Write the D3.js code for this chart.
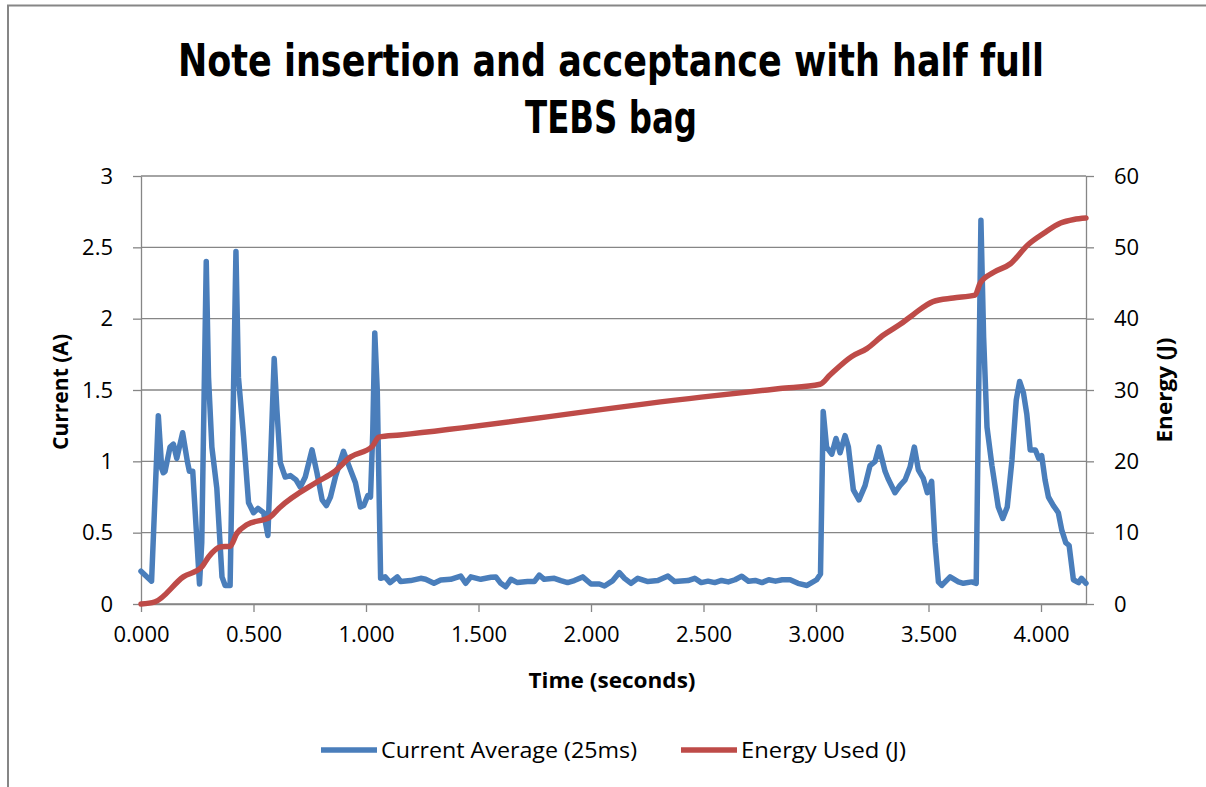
<!DOCTYPE html>
<html>
<head>
<meta charset="utf-8">
<script src="https://cdn.jsdelivr.net/npm/d3@7"></script>
<style>
  body { margin: 0; background: #fff; }
  svg { display: block; }
</style>
</head>
<body>
<div id="chart"></div>
<script>
// current average (25ms) - time in seconds, amps
const currentTime = [
  0.000, 0.047, 0.077, 0.092, 0.099, 0.107, 0.129, 0.144, 0.159, 0.185,
  0.206, 0.215, 0.230, 0.260, 0.270, 0.290, 0.300, 0.315, 0.337, 0.360,
  0.374, 0.396, 0.422, 0.433, 0.456, 0.478, 0.500, 0.520, 0.545, 0.564,
  0.592, 0.604, 0.619, 0.641, 0.664, 0.689, 0.708, 0.730, 0.760, 0.782,
  0.805, 0.824, 0.842, 0.864, 0.900, 0.931, 0.953, 0.975, 0.990, 1.008,
  1.020, 1.030, 1.039, 1.050, 1.065, 1.085, 1.107, 1.139, 1.154, 1.198,
  1.243, 1.265, 1.302, 1.332, 1.376, 1.421, 1.443, 1.466, 1.510, 1.555,
  1.577, 1.599, 1.621, 1.644, 1.673, 1.718, 1.748, 1.770, 1.792, 1.837,
  1.866, 1.896, 1.926, 1.963, 2.000, 2.037, 2.060, 2.097, 2.126, 2.149,
  2.178, 2.208, 2.253, 2.297, 2.342, 2.372, 2.431, 2.461, 2.490, 2.520,
  2.550, 2.580, 2.610, 2.640, 2.670, 2.700, 2.730, 2.760, 2.790, 2.820,
  2.850, 2.885, 2.920, 2.960, 3.003, 3.020, 3.032, 3.047, 3.070, 3.089,
  3.107, 3.129, 3.144, 3.166, 3.191, 3.218, 3.240, 3.263, 3.280, 3.307,
  3.320, 3.351, 3.373, 3.396, 3.418, 3.437, 3.455, 3.477, 3.495, 3.514,
  3.529, 3.544, 3.559, 3.596, 3.633, 3.655, 3.692, 3.712, 3.733, 3.745,
  3.760, 3.782, 3.810, 3.830, 3.850, 3.871, 3.890, 3.905, 3.922, 3.937,
  3.952, 3.975, 3.990, 4.003, 4.018, 4.033, 4.055, 4.077, 4.092, 4.110,
  4.125, 4.144, 4.167, 4.180, 4.200
];
const currentAvg = [
  0.23, 0.16, 1.32, 0.95, 0.92, 0.93, 1.10, 1.12, 1.02, 1.20,
  1.00, 0.93, 0.93, 0.14, 0.43, 2.40, 1.59, 1.10, 0.81, 0.19,
  0.13, 0.13, 2.47, 1.59, 1.17, 0.71, 0.64, 0.67, 0.64, 0.48,
  1.72, 1.36, 0.99, 0.89, 0.90, 0.87, 0.82, 0.89, 1.08, 0.92,
  0.73, 0.69, 0.75, 0.89, 1.07, 0.94, 0.85, 0.68, 0.69, 0.76,
  0.75, 1.20, 1.90, 1.50, 0.18, 0.19, 0.15, 0.19, 0.157, 0.164,
  0.18, 0.173, 0.145, 0.168, 0.173, 0.196, 0.145, 0.19, 0.173, 0.187,
  0.19, 0.145, 0.121, 0.173, 0.15, 0.157, 0.157, 0.203, 0.173, 0.18,
  0.164, 0.15, 0.164, 0.19, 0.14, 0.14, 0.126, 0.164, 0.22, 0.18,
  0.145, 0.18, 0.157, 0.164, 0.196, 0.157, 0.164, 0.18, 0.15, 0.16,
  0.15, 0.165, 0.155, 0.17, 0.195, 0.16, 0.165, 0.15, 0.17, 0.16,
  0.17, 0.17, 0.145, 0.13, 0.17, 0.21, 1.35, 1.10, 1.05, 1.16,
  1.06, 1.18, 1.10, 0.80, 0.73, 0.83, 0.97, 1.00, 1.10, 0.93,
  0.88, 0.78, 0.83, 0.87, 0.96, 1.10, 0.94, 0.88, 0.78, 0.86,
  0.43, 0.155, 0.13, 0.19, 0.155, 0.145, 0.155, 0.145, 2.69, 1.87,
  1.24, 0.97, 0.68, 0.60, 0.68, 1.01, 1.43, 1.56, 1.48, 1.33,
  1.08, 1.08, 1.02, 1.04, 0.87, 0.75, 0.69, 0.64, 0.52, 0.43,
  0.41, 0.17, 0.15, 0.18, 0.145
];

// energy used (J)
const energyTime = [
  0.000, 0.062, 0.188, 0.270, 0.300, 0.352, 0.396, 0.426, 0.470, 0.574,
  0.612, 0.782, 0.857, 0.931, 1.028, 1.057, 1.151, 2.490, 2.840, 3.018,
  3.062, 3.159, 3.226, 3.300, 3.374, 3.433, 3.520, 3.610, 3.707, 3.730,
  3.790, 3.864, 3.940, 4.014, 4.087, 4.146, 4.200
];
const energyUsed = [
  0, 0.3, 3.8, 5.2, 6.6, 8.0, 8.1, 9.9, 11.1, 12.2,
  13.4, 17.1, 18.5, 20.6, 22.1, 23.4, 23.7, 29.0, 30.2, 30.8,
  32.1, 34.7, 35.8, 37.7, 39.2, 40.6, 42.4, 42.9, 43.3, 45.0,
  46.5, 47.7, 50.3, 52.0, 53.4, 53.9, 54.1
];

const xTicks = [0, 0.5, 1, 1.5, 2, 2.5, 3, 3.5, 4];
const leftTicks = [0, 0.5, 1, 1.5, 2, 2.5, 3];
const rightTicks = [0, 10, 20, 30, 40, 50, 60];

const titleLines = ["Note insertion and acceptance with half full", "TEBS bag"];
const seriesNames = ["Current Average (25ms)", "Energy Used (J)"];

const W = 1206, H = 787;
const gridColor = "#868686";
const blue = "#4A7EBB", red = "#BE4B48";
const bodyFont = "'Open Sans', 'DejaVu Sans', sans-serif";
const boldFont = "'Liberation Sans Narrow', 'DejaVu Sans Condensed', 'Open Sans', sans-serif";

const svg = d3.select("#chart").append("svg")
  .attr("width", W).attr("height", H);

svg.append("rect").attr("width", W).attr("height", H).attr("fill", "#fff");

// chart border (only top/left visible)
svg.append("rect")
  .attr("x", 8).attr("y", 5.5)
  .attr("width", 1400).attr("height", 1000)
  .attr("fill", "none")
  .attr("stroke", gridColor).attr("stroke-width", 2);

const x = d3.scaleLinear().domain([0, 4.2]).range([141, 1086]);
const yL = d3.scaleLinear().domain([0, 3]).range([604, 176]);
const yR = d3.scaleLinear().domain([0, 60]).range([604, 176]);

// gridlines
svg.append("g").selectAll("line")
  .data(leftTicks)
  .enter().append("line")
  .attr("x1", x(0)).attr("x2", x(4.2))
  .attr("y1", d => yL(d)).attr("y2", d => yL(d))
  .attr("stroke", gridColor).attr("stroke-width", 1.3);

function styleAxis(g) {
  g.selectAll("path, line").attr("stroke", gridColor).attr("stroke-width", 1.3);
  g.selectAll("text")
    .attr("fill", "#000")
    .attr("font-family", bodyFont)
    .attr("font-size", "22px");
}

// left axis
svg.append("g")
  .attr("transform", `translate(${x(0)},0)`)
  .call(d3.axisLeft(yL).tickValues(leftTicks).tickSize(8).tickSizeOuter(0).tickPadding(20)
    .tickFormat(d3.format("")))
  .call(styleAxis);

// right axis
svg.append("g")
  .attr("transform", `translate(${x(4.2)},0)`)
  .call(d3.axisRight(yR).tickValues(rightTicks).tickSize(8).tickSizeOuter(0).tickPadding(20)
    .tickFormat(d3.format("")))
  .call(styleAxis);

// bottom axis
svg.append("g")
  .attr("transform", `translate(0,${yL(0)})`)
  .call(d3.axisBottom(x).tickValues(xTicks).tickSize(8).tickSizeOuter(0).tickPadding(14)
    .tickFormat(d3.format(".3f")))
  .call(styleAxis);

// series
const currentPts = currentTime.map((t, i) => [t, currentAvg[i]]);
const energyPts = energyTime.map((t, i) => [t, energyUsed[i]]);

svg.append("path")
  .datum(currentPts)
  .attr("fill", "none")
  .attr("stroke", blue)
  .attr("stroke-width", 5.5)
  .attr("stroke-linejoin", "round")
  .attr("stroke-linecap", "round")
  .attr("d", d3.line().x(d => x(d[0])).y(d => yL(d[1])));

svg.append("path")
  .datum(energyPts)
  .attr("fill", "none")
  .attr("stroke", red)
  .attr("stroke-width", 5.5)
  .attr("stroke-linejoin", "round")
  .attr("stroke-linecap", "round")
  .attr("d", d3.line().x(d => x(d[0])).y(d => yR(d[1])).curve(d3.curveMonotoneX));

// title
svg.append("text")
  .attr("x", 611).attr("y", 76)
  .attr("text-anchor", "middle")
  .attr("font-family", boldFont).attr("font-weight", "bold")
  .attr("font-size", "44px")
  .attr("textLength", 866).attr("lengthAdjust", "spacingAndGlyphs")
  .text(titleLines[0]);
svg.append("text")
  .attr("x", 611).attr("y", 133)
  .attr("text-anchor", "middle")
  .attr("font-family", boldFont).attr("font-weight", "bold")
  .attr("font-size", "44px")
  .attr("textLength", 172).attr("lengthAdjust", "spacingAndGlyphs")
  .text(titleLines[1]);

// axis titles
svg.append("text")
  .attr("x", 612).attr("y", 688)
  .attr("text-anchor", "middle")
  .attr("font-family", bodyFont).attr("font-weight", "bold")
  .attr("font-size", "21px")
  .attr("textLength", 167).attr("lengthAdjust", "spacingAndGlyphs")
  .text("Time (seconds)");

svg.append("text")
  .attr("transform", "translate(68,392) rotate(-90)")
  .attr("text-anchor", "middle")
  .attr("font-family", bodyFont).attr("font-weight", "bold")
  .attr("font-size", "21px")
  .attr("textLength", 116).attr("lengthAdjust", "spacingAndGlyphs")
  .text("Current (A)");

svg.append("text")
  .attr("transform", "translate(1172,390) rotate(-90)")
  .attr("text-anchor", "middle")
  .attr("font-family", bodyFont).attr("font-weight", "bold")
  .attr("font-size", "21px")
  .attr("textLength", 105).attr("lengthAdjust", "spacingAndGlyphs")
  .text("Energy (J)");

// legend
const legend = svg.append("g");
const legendItems = [
  { name: seriesNames[0], color: blue, x0: 321, len: 256 },
  { name: seriesNames[1], color: red, x0: 681, len: 165 }
];
legendItems.forEach(d => {
  legend.append("line")
    .attr("x1", d.x0).attr("x2", d.x0 + 56)
    .attr("y1", 750).attr("y2", 750)
    .attr("stroke", d.color).attr("stroke-width", 5.5);
  legend.append("text")
    .attr("x", d.x0 + 60).attr("y", 758)
    .attr("font-family", bodyFont)
    .attr("font-size", "21px")
    .attr("textLength", d.len).attr("lengthAdjust", "spacingAndGlyphs")
    .text(d.name);
});
</script>
</body>
</html>
